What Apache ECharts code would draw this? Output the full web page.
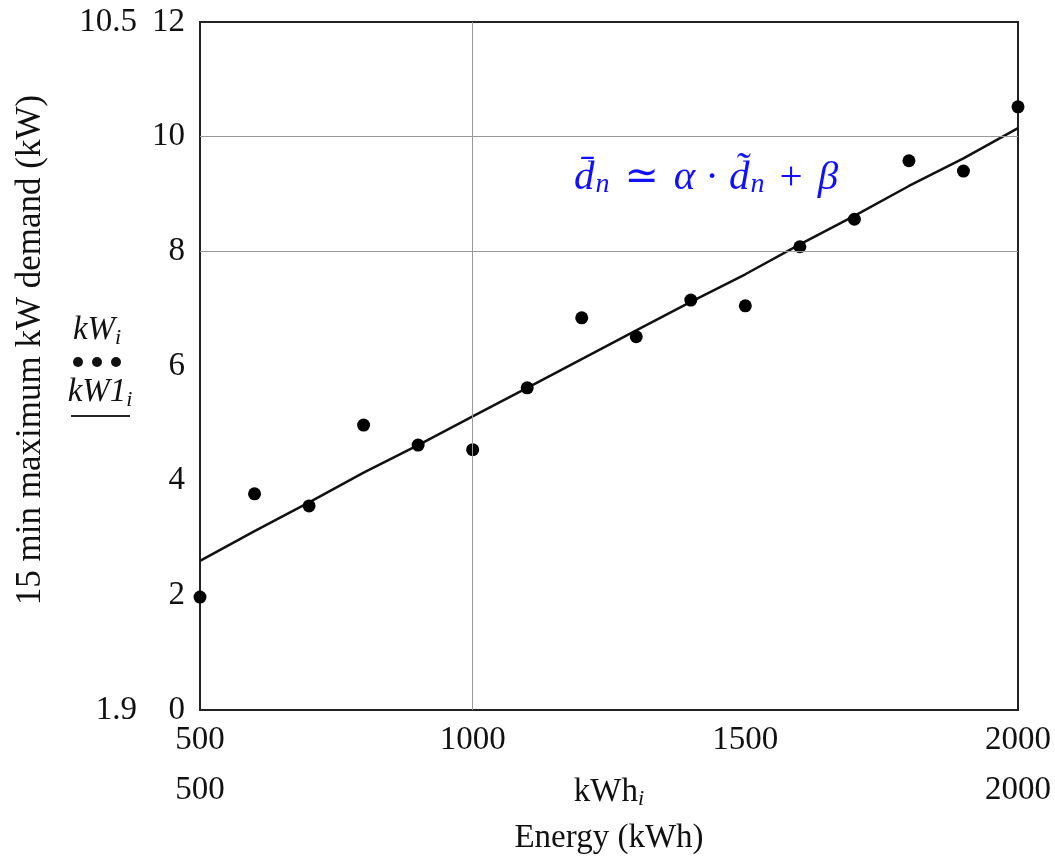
<!DOCTYPE html>
<html>
<head>
<meta charset="utf-8">
<script src="https://cdn.jsdelivr.net/npm/echarts@6/dist/echarts.min.js"></script>
<style>html,body{margin:0;padding:0;background:#fff}#c{width:1055px;height:862px}</style>
</head>
<body>
<div id="c"></div>
<script>
// ---- data ----
const energy = [500, 600, 700, 800, 900, 1000, 1100, 1200, 1300, 1400, 1500, 1600, 1700, 1800, 1900, 2000];
const demand = [1.97, 3.77, 3.56, 4.97, 4.62, 4.54, 5.62, 6.84, 6.51, 7.15, 7.05, 8.08, 8.56, 9.58, 9.40, 10.52];
const fitLine = [2.60, 3.12, 3.62, 4.14, 4.62, 5.12, 5.62, 6.12, 6.62, 7.12, 7.60, 8.12, 8.62, 9.14, 9.62, 10.15];
const innerYTicks = [0, 2, 4, 6, 8, 10, 12];
const outerYTicks = [1.9, 10.5];
const outerXTicks = [500, 2000];
const gridYValues = [8, 10];
const gridXValues = [1000];

const SERIF = '"Liberation Serif", "DejaVu Serif", serif';
const FS = 33;
const TXT = '#111';
const BLUE = '#1010ff';

const chart = echarts.init(document.getElementById('c'));
const option = {
  animation: false,
  backgroundColor: '#fff',
  grid: { left: 200, right: 37, top: 22, bottom: 152, show: true, borderColor: '#222', borderWidth: 2, backgroundColor: 'transparent' },
  xAxis: [
    {
      type: 'value', min: 500, max: 2000, interval: 500, position: 'bottom',
      axisLine: { show: true, lineStyle: { color: '#222', width: 2 } },
      axisTick: { show: false }, splitLine: { show: false },
      axisLabel: { color: TXT, fontFamily: SERIF, fontSize: FS, margin: 14, formatter: v => String(v) },
      name: 'Energy (kWh)', nameLocation: 'middle', nameGap: 112, nameMoveOverlap: false,
      nameTextStyle: { color: TXT, fontFamily: SERIF, fontSize: FS }
    },
    {
      type: 'value', min: 500, max: 2000, position: 'bottom', offset: 50,
      axisLine: { show: false }, axisTick: { show: false }, splitLine: { show: false },
      axisLabel: { color: TXT, fontFamily: SERIF, fontSize: FS, margin: 14, customValues: outerXTicks, formatter: v => String(v) },
      name: 'kWh{i|i}', nameLocation: 'middle', nameGap: 14, nameMoveOverlap: false,
      nameTextStyle: { color: TXT, fontFamily: SERIF, fontSize: FS,
        rich: { i: { fontFamily: SERIF, fontStyle: 'italic', fontSize: 22, color: TXT, padding: [14, 0, 0, 0] } } }
    }
  ],
  yAxis: [
    {
      type: 'value', min: 0, max: 12, interval: 2, position: 'left',
      axisLine: { show: true, lineStyle: { color: '#222', width: 2 } },
      axisTick: { show: false }, splitLine: { show: false },
      axisLabel: { color: TXT, fontFamily: SERIF, fontSize: FS, margin: 15, customValues: innerYTicks }
    },
    {
      type: 'value', min: 1.9, max: 10.5, position: 'left', offset: 48,
      axisLine: { show: false }, axisTick: { show: false }, splitLine: { show: false },
      axisLabel: { color: TXT, fontFamily: SERIF, fontSize: FS, margin: 15, customValues: outerYTicks,
        formatter: v => String(v) }
    }
  ],
  graphic: [
    {
      type: 'text', x: 31, y: 350, rotation: Math.PI / 2,
      style: { text: '15 min maximum kW demand (kW)', x: 0, y: 0, align: 'center', verticalAlign: 'middle',
        font: '35px ' + SERIF, fill: TXT }
    },
    {
      type: 'text', x: 97, y: 330,
      style: { text: '{k|kW}{s|i}', align: 'center', verticalAlign: 'middle', fill: TXT,
        rich: { k: { fontFamily: SERIF, fontStyle: 'italic', fontSize: FS, fill: TXT },
                s: { fontFamily: SERIF, fontStyle: 'italic', fontSize: 22, fill: TXT, padding: [16, 0, 0, 0] } } }
    },
    { type: 'circle', shape: { cx: 78, cy: 362, r: 5 }, style: { fill: '#111' } },
    { type: 'circle', shape: { cx: 97, cy: 362, r: 5 }, style: { fill: '#111' } },
    { type: 'circle', shape: { cx: 116, cy: 362, r: 5 }, style: { fill: '#111' } },
    {
      type: 'text', x: 100, y: 392,
      style: { text: '{k|kW1}{s|i}', align: 'center', verticalAlign: 'middle', fill: TXT,
        rich: { k: { fontFamily: SERIF, fontStyle: 'italic', fontSize: FS, fill: TXT },
                s: { fontFamily: SERIF, fontStyle: 'italic', fontSize: 22, fill: TXT, padding: [16, 0, 0, 0] } } }
    },
    { type: 'line', shape: { x1: 71, y1: 416, x2: 130, y2: 416 }, style: { stroke: '#222', lineWidth: 2 } },
    {
      type: 'text', x: 574, y: 178,
      style: { text: '{v|d\u0304}{s|n}{o|\u2243}{v|\u03b1}{d|\u00b7}{v|d\u0303}{s|n}{o|+}{v|\u03b2}',
        align: 'left', verticalAlign: 'middle', fill: BLUE,
        rich: {
          v: { fontFamily: SERIF, fontStyle: 'italic', fontSize: 41, fill: BLUE },
          o: { fontFamily: SERIF, fontSize: 41, fill: BLUE, padding: [0, 15, 0, 15] },
          d: { fontFamily: SERIF, fontSize: 41, fill: BLUE, padding: [0, 10, 0, 10] },
          s: { fontFamily: SERIF, fontStyle: 'italic', fontSize: 28, fill: BLUE, padding: [14, 0, 0, 1] }
        } }
    }
  ],
  series: [
    {
      type: 'line', xAxisIndex: 0, yAxisIndex: 0,
      data: energy.map((x, i) => [x, fitLine[i]]),
      showSymbol: false, symbol: 'none',
      lineStyle: { color: '#111', width: 2.5 }, z: 3,
      markLine: {
        silent: true, symbol: 'none', label: { show: false },
        lineStyle: { color: '#999', width: 1, type: 'solid' },
        data: gridYValues.map(v => ({ yAxis: v })).concat(gridXValues.map(v => ({ xAxis: v })))
      }
    },
    {
      type: 'scatter', xAxisIndex: 0, yAxisIndex: 0,
      data: energy.map((x, i) => [x, demand[i]]),
      symbol: 'circle', symbolSize: 13,
      itemStyle: { color: '#000', opacity: 1 }, z: 4
    }
  ]
};
chart.setOption(option);
</script>
</body>
</html>
